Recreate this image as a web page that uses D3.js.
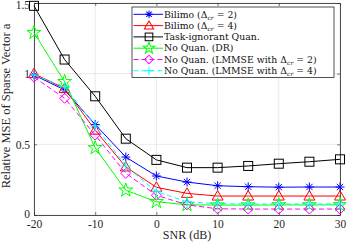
<!DOCTYPE html>
<html><head><meta charset="utf-8">
<script src="https://cdn.jsdelivr.net/npm/d3@7"></script>
<style>body{margin:0;background:#fff}svg{display:block}</style>
</head><body><svg id="c" width="346" height="242"></svg>
<script>
const snr = [-20,-15,-10,-5,0,5,10,15,20,25,30];
const bilimo2 = [0.99,0.885,0.64,0.41,0.276,0.233,0.207,0.200,0.197,0.198,0.198];
const bilimo4 = [1.0,0.895,0.60,0.34,0.196,0.153,0.134,0.134,0.134,0.134,0.134];
const taskIgn = [1.48,1.10,0.84,0.54,0.39,0.335,0.335,0.347,0.363,0.377,0.394];
const noQuanDR = [1.29,0.943,0.475,0.175,0.094,0.072,0.070,0.070,0.071,0.071,0.072];
const lmmse2 = [0.975,0.826,0.566,0.295,0.14,0.072,0.044,0.042,0.042,0.042,0.042];
const lmmse4 = [0.99,0.908,0.63,0.347,0.165,0.094,0.08,0.078,0.078,0.078,0.078];
const xTicks = [-20,-10,0,10,20,30];
const yTicks = [0,0.5,1,1.5];
const labels = ["Bilimo (Δ_cr = 2)","Bilimo (Δ_cr = 4)","Task-ignorant Quan.","No Quan. (DR)","No Quan. (LMMSE with Δ_cr = 2)","No Quan. (LMMSE with Δ_cr = 4)"];

const SERIF = "Liberation Serif";
const LEGF = "DejaVu Serif";
const series = [
 {v:bilimo2,c:"#0000ff",m:"ast",dash:null},
 {v:bilimo4,c:"#ff0000",m:"tri",dash:null},
 {v:taskIgn,c:"#000000",m:"sq",dash:null},
 {v:noQuanDR,c:"#00ff00",m:"star",dash:null},
 {v:lmmse2,c:"#ff00ff",m:"dia",dash:"5,3"},
 {v:lmmse4,c:"#00ffff",m:"plus",dash:"5,3"}
];
const svg = d3.select("#c");
const L=34,R=340,T=3,B=215;
const x = d3.scaleLinear().domain([-20,30]).range([L,R]);
const y = d3.scaleLinear().domain([0,1.5]).range([B,T]);

const g = svg.append("g");
xTicks.forEach(t=>g.append("line").attr("x1",x(t)).attr("x2",x(t)).attr("y1",T).attr("y2",B).attr("stroke","#e3e3e3").attr("stroke-width",0.8));
yTicks.forEach(t=>g.append("line").attr("x1",L).attr("x2",R).attr("y1",y(t)).attr("y2",y(t)).attr("stroke","#e3e3e3").attr("stroke-width",0.8));

const xa = svg.append("g").attr("transform",`translate(0,${B})`).call(d3.axisBottom(x).tickValues(xTicks).tickSizeInner(-3).tickSizeOuter(0).tickPadding(5).tickFormat(d=>String(d)));
const ya = svg.append("g").attr("transform",`translate(${L},0)`).call(d3.axisLeft(y).tickValues(yTicks).tickSizeInner(-3).tickSizeOuter(0).tickPadding(4).tickFormat(d=>String(d)));
const xt = svg.append("g").attr("transform",`translate(0,${T})`).call(d3.axisTop(x).tickValues(xTicks).tickSizeInner(-3).tickSizeOuter(0).tickFormat(""));
const yr = svg.append("g").attr("transform",`translate(${R},0)`).call(d3.axisRight(y).tickValues(yTicks).tickSizeInner(-3).tickSizeOuter(0).tickFormat(""));
[xa,ya,xt,yr].forEach(a=>{a.select(".domain").attr("stroke","#262626").attr("stroke-width",0.8);a.selectAll(".tick line").attr("stroke","#262626").attr("stroke-width",0.6);a.selectAll("text").attr("font-size",11.5).attr("font-family",SERIF).attr("fill","#262626");});
ya.selectAll(".tick").filter(d=>d===1.5).select("text").attr("dy","0.5em");
ya.selectAll(".tick").filter(d=>d===0).select("text").attr("dy","0.2em");

function marker(sel,type,c,cx,cy,k){
  k = k||1;
  const gg = sel.append("g").attr("transform",`translate(${cx},${cy}) scale(${k})`).attr("fill","none").attr("stroke",c).attr("stroke-width",1/k);
  if(type==="ast"){const r=4.5;gg.append("path").attr("d",`M${-r},0H${r}M0,${-r}V${r}M${-r*0.7},${-r*0.7}L${r*0.7},${r*0.7}M${-r*0.7},${r*0.7}L${r*0.7},${-r*0.7}`);}
  else if(type==="tri"){gg.append("path").attr("d","M0,-5.5L5.5,4L-5.5,4Z");}
  else if(type==="sq"){gg.append("rect").attr("x",-4.5).attr("y",-4.5).attr("width",9).attr("height",9);}
  else if(type==="star"){gg.append("path").attr("d",d3.symbol(d3.symbolStar,60)());}
  else if(type==="dia"){gg.append("path").attr("d","M0,-5L5,0L0,5L-5,0Z");}
  else if(type==="plus"){gg.append("path").attr("d","M-5,0H5M0,-5V5");}
}
const line = d3.line().x((d,i)=>x(snr[i])).y(d=>y(d));
series.forEach(s=>{
  svg.append("path").attr("d",line(s.v)).attr("fill","none").attr("stroke",s.c).attr("stroke-width",1).attr("stroke-dasharray",s.dash);
  s.v.forEach((v,i)=>marker(svg,s.m,s.c,x(snr[i]),y(v)));
});

const lg = svg.append("g");
lg.append("rect").attr("x",132).attr("y",7).attr("width",202).attr("height",70.5).attr("fill","#fff").attr("stroke","#262626").attr("stroke-width",0.8);
series.forEach((s,i)=>{
  const yy = 14.3+i*11.3;
  lg.append("line").attr("x1",133.5).attr("x2",163).attr("y1",yy).attr("y2",yy).attr("stroke",s.c).attr("stroke-width",1).attr("stroke-dasharray",s.dash);
  marker(lg,s.m,s.c,149,yy,0.85);
  const t = lg.append("text").attr("x",164).attr("y",yy+3.2).attr("font-size",9.3).attr("font-family",LEGF).attr("fill","#111");
  const parts = labels[i].split("Δ_cr");
  t.append("tspan").text(parts[0]);
  if(parts.length>1){
    t.append("tspan").text("Δ");
    t.append("tspan").attr("font-size",6).attr("font-style","italic").attr("dy",2).text("cr");
    t.append("tspan").attr("dy",-2).text(parts[1]);
  }
});

svg.append("text").attr("x",187).attr("y",239).attr("text-anchor","middle").attr("font-size",12).attr("font-family",SERIF).attr("fill","#262626").text("SNR (dB)");
svg.append("text").attr("transform","translate(10,106) rotate(-90)").attr("text-anchor","middle").attr("font-size",12.5).attr("font-family",SERIF).attr("fill","#262626").text("Relative MSE of Sparse Vector a");
</script></body></html>
